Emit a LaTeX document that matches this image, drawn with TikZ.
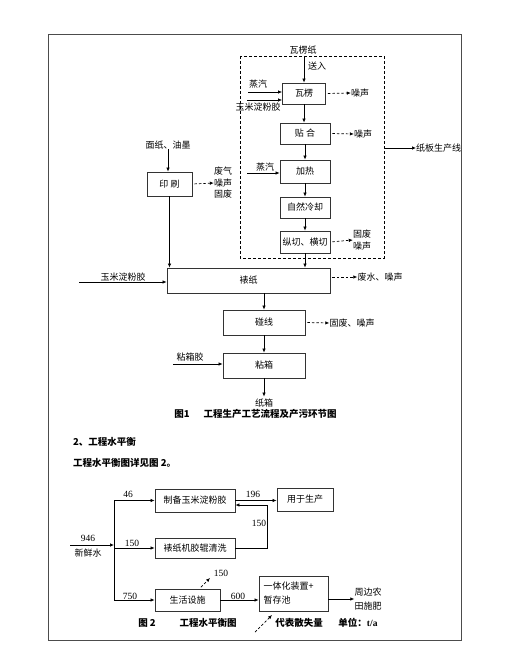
\documentclass[tikz,border=0pt]{standalone}
\usepackage{fontspec}
\setmainfont{Noto Sans CJK SC}
\newfontfamily\numfont{Liberation Serif}
\usetikzlibrary{arrows.meta}

\begin{document}
\begin{tikzpicture}
[every node/.style={inner sep=0pt, font=\fontsize{9}{10}\selectfont},
 box/.style={rectangle, draw=black!80, line width=0.8pt},
 flow/.style={line width=0.7pt, -{Latex[length=4pt,width=3.5pt]}},
 loss/.style={flow, dash pattern=on 2.5pt off 2pt, shorten <=2pt},
 num/.style={font=\fontsize{9.5}{10}\selectfont\numfont},
 caption/.style={font=\fontsize{9.5}{11}\selectfont\bfseries}]
\useasboundingbox (0pt,0pt) rectangle (515pt,-660pt);
\draw [line width=1pt, color=black!70] (48pt,-35pt) rectangle (461pt,-640pt);
% figure 1
\draw [line width=0.7pt, dash pattern=on 3pt off 2pt] (240pt,-56pt) rectangle (384pt,-258pt);
\node (wlz) at (303pt,-50pt) {瓦楞纸};
\coordinate (wlin) at (304pt,-57pt);
\node (sr) at (317pt,-66pt) {送入};
\node (wl) [box, minimum width=43pt, minimum height=21pt] at (304pt,-93.5pt) {瓦楞};
\node (th) [box, minimum width=50pt, minimum height=21pt] at (305pt,-133.5pt) {贴\ 合};
\node (jr) [box, minimum width=50pt, minimum height=23pt] at (305pt,-171.5pt) {加热};
\node (lq) [box, minimum width=50pt, minimum height=21pt] at (305pt,-207.5pt) {自然冷却};
\node (qg) [box, minimum width=50pt, minimum height=22pt] at (305pt,-242pt) {纵切、横切};
\coordinate (zq1) at (248pt,-92pt);
\node (zq1t) at (258pt,-84pt) {蒸汽};
\coordinate (ym1) at (247pt,-100pt);
\node (ym1t) at (258pt,-107pt) {玉米淀粉胶};
\coordinate (zq2) at (247pt,-173pt);
\node (zq2t) at (265pt,-167pt) {蒸汽};
\node (zs1) at (360pt,-93pt) {噪声};
\node (zs2) at (363pt,-134pt) {噪声};
\node (gz) [align=center, font=\fontsize{9}{12}\selectfont] at (362pt,-240pt) {固废\\噪声};
\node (zbx) [anchor=west] at (416pt,-148pt) {纸板生产线};
\coordinate (zbo) at (384pt,-148pt);
\draw [flow] (wlin) -- (wlin |- wl.north);
\draw [flow] (zq1) -- (zq1 -| wl.west);
\draw [flow] (ym1) -- (ym1 -| wl.west);
\draw [flow] (wl.south) -- (wl.south |- th.north);
\draw [flow] (th) -- (jr);
\draw [flow] (zq2) -- (zq2 -| jr.west);
\draw [flow] (jr) -- (lq);
\draw [flow] (lq) -- (qg);
\draw [loss] (wl.east) -- (zs1.west);
\draw [loss] (th.east) -- (zs2.west);
\draw [loss] (qg.east) -- (gz.west);
\draw [flow] (zbo) -- (zbx.west);
\node (mz) at (168pt,-145pt) {面纸、油墨};
\node (ys) [box, minimum width=45pt, minimum height=24pt] at (169.5pt,-184pt) {印\ 刷};
\node (fq) [align=center, font=\fontsize{9}{11.5}\selectfont] at (223pt,-183pt) {废气\\噪声\\固废};
\draw [flow] (mz.south) -- (mz.south |- ys.north);
\draw [loss] (ys.east) -- (fq.west);
\node (bz) [box, minimum width=163pt, minimum height=25pt] at (248.5pt,-280.5pt) {裱纸};
\coordinate (ym2) at (79pt,-282pt);
\node (ym2t) at (123pt,-277pt) {玉米淀粉胶};
\node (fs) at (380pt,-277pt) {废水、噪声};
\draw [flow] (ys.south) -- (ys.south |- bz.north);
\draw [flow] (qg.south) -- (qg.south |- bz.north);
\draw [flow] (ym2) -- (ym2 -| bz.west);
\draw [loss] (fs.west -| bz.east) -- (fs.west);
\node (px) [box, minimum width=82pt, minimum height=25pt] at (264pt,-322.5pt) {碰线};
\node (gf) at (352pt,-323pt) {固废、噪声};
\node (zx) [box, minimum width=82pt, minimum height=25pt] at (264pt,-365.5pt) {粘箱};
\node (zxj) at (190pt,-357pt) {粘箱胶};
\coordinate (zxi) at (173pt,-364pt);
\node (zxo) at (264pt,-403pt) {纸箱};
\draw [flow] (bz.south -| px.north) -- (px.north);
\draw [loss] (px.east) -- (gf.west);
\draw [flow] (px) -- (zx);
\draw [flow] (zxi) -- (zxi -| zx.west);
\draw [flow] (zx.south) -- ([yshift=2pt]zxo.north);
\node (cap1) [caption] at (182pt,-414pt) {图1};
\node (cap1t) [caption] at (270pt,-414pt) {工程生产工艺流程及产污环节图};
% section text
\node (sec) [caption, anchor=west] at (73pt,-442pt) {2、工程水平衡};
\node (ref) [caption, anchor=west] at (73pt,-463pt) {工程水平衡图详见图 2。};
% figure 2
\node (zb) [box, minimum width=80pt, minimum height=23pt] at (195pt,-500.5pt) {制备玉米淀粉胶};
\node (yy) [box, minimum width=56pt, minimum height=23pt] at (305pt,-499.5pt) {用于生产};
\node (bj) [box, minimum width=80pt, minimum height=20pt] at (195pt,-548pt) {裱纸机胶辊清洗};
\node (sh) [box, minimum width=65pt, minimum height=22pt] at (187.5pt,-600pt) {生活设施};
\node (yt) [box, minimum width=69pt, minimum height=35pt, align=left, text width=60pt, font=\fontsize{9}{14}\selectfont] at (293.5pt,-593.5pt) {一体化装置+\\暂存池};
\node (nt) [align=center, font=\fontsize{9}{14.5}\selectfont] at (368pt,-599pt) {周边农\\田施肥};
\coordinate (t1) at (114pt,-500.5pt);
\coordinate (t3) at (114pt,-600pt);
\coordinate (xs) at (70pt,-545pt);
\coordinate (fb) at (267pt,-505pt);
\coordinate (sl) at (210pt,-578pt);
\node (n946) [num] at (88pt,-538pt) {946};
\node (xsw) at (88pt,-553pt) {新鲜水};
\node (n46) [num] at (128pt,-494pt) {46};
\node (n150a) [num] at (132pt,-543pt) {150};
\node (n750) [num] at (130pt,-596pt) {750};
\node (n196) [num] at (253pt,-494pt) {196};
\node (n150b) [num] at (259pt,-523pt) {150};
\node (n600) [num] at (238pt,-596pt) {600};
\node (n150c) [num] at (221pt,-573pt) {150};
\draw [line width=0.7pt] (t1) -- (t3);
\draw [flow] (xs) -- (xs -| t1);
\draw [flow] (t1) -- (zb.west);
\draw [flow] (t1 |- bj.west) -- (bj.west);
\draw [flow] (t3) -- (sh.west);
\draw [flow] (zb.east) -- (zb.east -| yy.west);
\draw [flow] (bj.east) -| (fb) -- (fb -| zb.east);
\draw [loss] ([xshift=12pt]sh.north) -- (sl);
\draw [flow] (sh.east) -- (sh.east -| yt.west);
\draw [flow] (nt.west -| yt.east) -- (nt.west);
\coordinate (l1) at (255pt,-632pt);
\coordinate (l2) at (272pt,-615pt);
\node (cap2) [caption] at (147pt,-623pt) {图 2};
\node (cap2t) [caption] at (208pt,-623pt) {工程水平衡图};
\node (lg) [caption] at (299pt,-623pt) {代表散失量};
\node (unit) [caption] at (358pt,-623pt) {单位：{\numfont t/a}};
\draw [loss, shorten <=0pt] (l1) -- (l2);
\end{tikzpicture}
\end{document}
